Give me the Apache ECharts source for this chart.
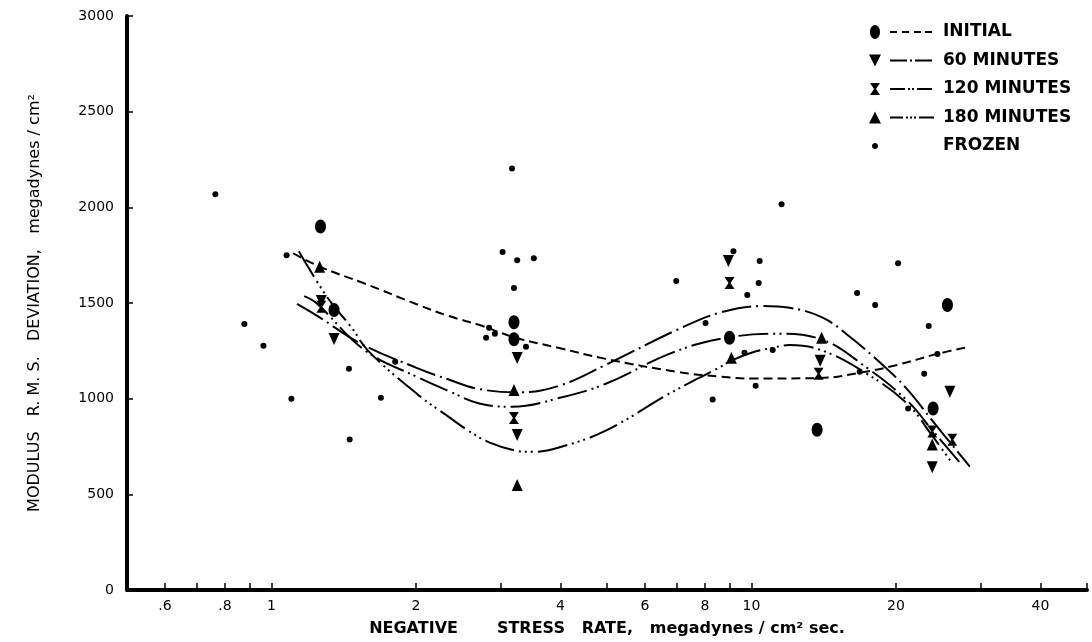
<!DOCTYPE html>
<html>
<head>
<meta charset="utf-8">
<title>Modulus R.M.S. deviation vs negative stress rate</title>
<script src="https://cdn.jsdelivr.net/npm/echarts@6/dist/echarts.min.js"></script>
<style>
  html, body { margin: 0; padding: 0; background: #ffffff; }
  #chart { width: 1092px; height: 642px; }
</style>
</head>
<body>
<div id="chart"></div>
<script>
// axis ticks / labels
var xTickValues = [0.6, 0.7, 0.8, 0.9, 1, 2, 3, 4, 5, 6, 7, 8, 9, 10, 20, 30, 40, 50];
var xLabelValues = [0.6, 0.8, 1, 2, 4, 6, 8, 10, 20, 40];
var seriesNames = ['INITIAL', '60 MINUTES', '120 MINUTES', '180 MINUTES', 'FROZEN'];

// measured points [stress rate, modulus deviation]
var initialPts = [[1.265, 1900], [1.35, 1463], [3.2, 1400], [3.2, 1310], [9.0, 1318], [13.7, 838], [23.9, 948], [25.6, 1490]];
var min60Pts = [[1.27, 1510], [1.35, 1312], [3.25, 1213], [3.25, 810], [8.95, 1719], [13.9, 1198], [25.9, 1036], [23.8, 641]];
var min120Pts = [[1.27, 1480], [3.2, 899], [9.0, 1604], [13.8, 1130], [23.8, 828], [26.2, 785]];
var min180Pts = [[1.26, 1690], [3.2, 1045], [3.25, 549], [9.08, 1214], [14.0, 1318], [23.8, 760]];
var frozenPts = [
  [0.764, 2068], [0.878, 1390], [0.962, 1276], [1.075, 1750], [1.10, 1000], [1.45, 1156], [1.455, 786],
  [1.69, 1005], [1.81, 1193], [2.8, 1318], [2.84, 1370], [2.92, 1339], [3.03, 1766], [3.17, 2203],
  [3.2, 1578], [3.25, 1724], [3.39, 1271], [3.52, 1734], [6.97, 1615], [8.02, 1396], [8.3, 995],
  [9.17, 1771], [9.67, 1240], [9.8, 1542], [10.2, 1068], [10.35, 1604], [10.4, 1719], [11.07, 1255],
  [11.55, 2016], [16.6, 1552], [16.8, 1141], [18.1, 1490], [20.2, 1708], [21.2, 948], [22.9, 1130],
  [23.4, 1380], [24.4, 1234]
];

// fitted curves
var initialCurve = [[1.11, 1760], [1.26, 1690], [1.57, 1600], [2.0, 1495], [2.34, 1432], [2.71, 1385], [3.23, 1318],
  [3.97, 1265], [4.97, 1208], [7.0, 1140], [8.6, 1115], [10.2, 1105], [13.9, 1108], [16.8, 1135], [20, 1175],
  [24.4, 1234], [28.5, 1272]];
var curve60 = [[1.13, 1495], [1.25, 1430], [1.54, 1286], [2.03, 1156], [2.34, 1100], [2.71, 1050], [3.3, 1033],
  [4.0, 1070], [5.0, 1180], [7.0, 1360], [8.6, 1450], [10.5, 1484], [12, 1475], [14.1, 1422], [16, 1325],
  [18.5, 1190], [21, 1055], [23.9, 880], [28.5, 645]];
var curve120 = [[1.17, 1536], [1.24, 1500], [1.57, 1250], [2.03, 1109], [2.34, 1040], [2.71, 975], [3.17, 958],
  [3.97, 1003], [4.97, 1078], [6.74, 1234], [8.58, 1312], [11.3, 1339], [13.9, 1312], [17.4, 1161],
  [21.1, 990], [23.9, 830], [27.5, 651]];
var curve180 = [[1.14, 1771], [1.31, 1526], [1.47, 1370], [1.59, 1250], [2.03, 1016], [2.34, 905], [2.58, 830],
  [2.85, 770], [3.2, 730], [3.5, 722], [3.97, 745], [4.97, 833], [6.74, 1026], [8.6, 1165], [9.1, 1200],
  [10, 1240], [11.07, 1266], [12, 1280], [14.1, 1250], [17.4, 1130], [21.1, 974], [23.9, 800], [26.1, 667]];

var chart = echarts.init(document.getElementById('chart'));
var FONT = 'DejaVu Sans';

// marker shapes
var ellipseSym = 'path://M0,7 C0,3.13 2.24,0 5,0 C7.76,0 10,3.13 10,7 C10,10.87 7.76,14 5,14 C2.24,14 0,10.87 0,7 Z';
var downTri = 'path://M0,0 L10,0 L5,12 Z';
var hourglass = 'path://M0,0 L10,0 L6,6 L10,12 L0,12 L4,6 Z';

// legend icons: marker + line sample in a 70x14 box (corners pin the box)
var corners = 'M0,0 L0.01,0 Z M70,14 L69.99,14 Z ';
function bar(x1, x2) {
  return 'M' + x1 + ',6 L' + x2 + ',6 L' + x2 + ',8 L' + x1 + ',8 Z ';
}
var iconInitial = 'path://' + corners +
  'M2,7 C2,3.13 4.24,0 7,0 C9.76,0 12,3.13 12,7 C12,10.87 9.76,14 7,14 C4.24,14 2,10.87 2,7 Z ' +
  bar(22, 29) + bar(34, 41) + bar(46, 53) + bar(57, 64);
var icon60 = 'path://' + corners + 'M1,1 L13,1 L7,13 Z ' + bar(22, 39) + bar(42, 44) + bar(47, 64);
var icon120 = 'path://' + corners + 'M2,1 L12,1 L8,7 L12,13 L2,13 L6,7 Z ' +
  bar(22, 37) + bar(40, 42) + bar(44, 46) + bar(49, 64);
var icon180 = 'path://' + corners + 'M7,1 L13,13 L1,13 Z ' +
  bar(22, 35) + bar(38, 40) + bar(42, 44) + bar(46, 48) + bar(51, 66);
var iconFrozen = 'path://' + corners +
  'M4,7 C4,5.34 5.34,4 7,4 C8.66,4 10,5.34 10,7 C10,8.66 8.66,10 7,10 C5.34,10 4,8.66 4,7 Z';

function curveSeries(name, pts, dash) {
  return {
    name: name, type: 'line', data: pts, smooth: 0.4, showSymbol: false, symbol: 'none',
    silent: true, z: 2, color: '#000',
    lineStyle: { color: '#000', width: 2, type: dash }
  };
}
function pointSeries(name, pts, symbol, size) {
  return {
    name: name, type: 'scatter', data: pts, symbol: symbol, symbolSize: size, z: 3,
    itemStyle: { color: '#000', opacity: 1 }
  };
}

var option = {
  backgroundColor: '#ffffff',
  animation: false,
  grid: { left: 127, right: 5, top: 16, bottom: 52, containLabel: false },
  legend: {
    orient: 'vertical', left: 868, top: 23.5, padding: 0,
    itemWidth: 70, itemHeight: 14, itemGap: 11.5,
    selectedMode: false,
    itemStyle: { color: '#000', borderWidth: 0 },
    textStyle: { fontFamily: FONT, fontSize: 17, fontWeight: 'bold', color: '#000', lineHeight: 14 },
    data: [
      { name: seriesNames[0], icon: iconInitial },
      { name: seriesNames[1], icon: icon60 },
      { name: seriesNames[2], icon: icon120 },
      { name: seriesNames[3], icon: icon180 },
      { name: seriesNames[4], icon: iconFrozen }
    ]
  },
  xAxis: {
    type: 'log', logBase: 10, min: 0.5, max: 50,
    name: 'NEGATIVE       STRESS   RATE,   megadynes / cm² sec.',
    nameLocation: 'middle', nameGap: 31,
    nameTextStyle: { fontFamily: FONT, fontSize: 16, fontWeight: 'bold', color: '#000' },
    axisLine: { onZero: false, lineStyle: { color: '#000', width: 4 } },
    axisTick: { inside: true, length: 7, lineStyle: { color: '#000', width: 1.5 }, customValues: xTickValues },
    axisLabel: {
      customValues: xLabelValues, margin: 9,
      fontFamily: FONT, fontSize: 14, color: '#000',
      formatter: function (v) {
        var r = Math.round(v * 10) / 10;
        return r < 1 ? String(r).replace(/^0/, '') : String(r);
      }
    },
    minorTick: { show: false },
    splitLine: { show: false }
  },
  yAxis: {
    type: 'value', min: 0, max: 3000, interval: 500,
    name: 'MODULUS   R. M. S.   DEVIATION,   megadynes / cm²',
    nameLocation: 'middle', nameGap: 84, nameRotate: 90,
    nameTextStyle: { fontFamily: FONT, fontSize: 16, color: '#000' },
    axisLine: { show: true, lineStyle: { color: '#000', width: 4 } },
    axisTick: { show: true, inside: true, length: 6, lineStyle: { color: '#000', width: 1.5 } },
    axisLabel: {
      margin: 13, fontFamily: FONT, fontSize: 14, color: '#000',
      formatter: function (v) { return String(v); }
    },
    splitLine: { show: false }
  },
  series: [
    curveSeries(seriesNames[0], initialCurve, [9, 5]),
    curveSeries(seriesNames[1], curve60, [30, 5, 2, 5]),
    curveSeries(seriesNames[2], curve120, [30, 5, 2, 4, 2, 5]),
    curveSeries(seriesNames[3], curve180, [30, 5, 2, 4, 2, 4, 2, 5]),
    pointSeries(seriesNames[0], initialPts, ellipseSym, [11, 14]),
    pointSeries(seriesNames[1], min60Pts, downTri, [11, 12]),
    pointSeries(seriesNames[2], min120Pts, hourglass, [10, 12]),
    pointSeries(seriesNames[3], min180Pts, 'triangle', [11, 12]),
    pointSeries(seriesNames[4], frozenPts, 'circle', 6)
  ]
};

chart.setOption(option);
window.addEventListener('resize', function () {
  chart.resize();
});
</script>
</body>
</html>
